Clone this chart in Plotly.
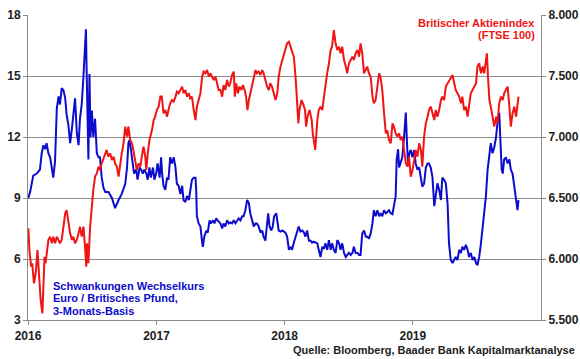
import pandas as pd
import plotly.graph_objects as go

# Days since 2016-01-01 and values
vol_days = [1, 6, 15, 25, 34, 39, 44, 49, 53, 58, 63, 68, 72, 77, 82, 87, 91, 96, 101, 106,
            110, 115, 120, 125, 129, 134, 139, 144, 148, 153, 158, 161, 165, 167, 170, 172, 175, 178, 182, 186,
            191, 196, 201, 205, 210, 215, 220, 229, 239, 248, 258, 267, 277, 282, 286, 289, 293, 299, 302, 308,
            312, 318, 322, 327, 331, 337, 341, 346, 350, 356, 360, 365, 369, 375, 379, 382, 386, 391, 396, 400,
            405, 410, 415, 420, 424, 429, 434, 439, 443, 448, 453, 458, 462, 467, 472, 477, 479, 481, 486, 491,
            496, 498, 502, 508, 512, 517, 521, 527, 531, 536, 540, 548, 553, 557, 562, 567, 572, 576, 581, 586,
            591, 595, 600, 605, 610, 614, 619, 624, 629, 633, 638, 643, 648, 652, 657, 662, 667, 671, 676, 681,
            684, 688, 693, 697, 701, 707, 710, 714, 719, 724, 729, 733, 738, 743, 748, 752, 757, 762, 767, 771,
            776, 781, 786, 790, 795, 800, 805, 809, 814, 824, 828, 833, 838, 843, 847, 852, 857, 862, 866, 871,
            876, 881, 886, 890, 895, 900, 905, 909, 914, 919, 924, 928, 933, 938, 943, 947, 952, 957, 962, 966,
            971, 976, 981, 985, 990, 995, 1000, 1004, 1009, 1014, 1019, 1023, 1028, 1033, 1038, 1042, 1047, 1050, 1054, 1057,
            1061, 1066, 1071, 1076, 1079, 1082, 1086, 1090, 1095, 1100, 1104, 1109, 1114, 1119, 1123, 1128, 1133, 1138, 1142, 1147,
            1152, 1157, 1161, 1166, 1171, 1176, 1180, 1185, 1190, 1195, 1199, 1204, 1209, 1214, 1218, 1223, 1228, 1233, 1237, 1242,
            1247, 1252, 1256, 1261, 1266, 1271, 1276, 1280, 1285, 1290, 1295, 1299, 1304, 1309, 1314, 1318, 1323, 1328, 1333, 1337,
            1342, 1345, 1349, 1352, 1356, 1361, 1366, 1371, 1375, 1380, 1385, 1390, 1394, 1397]
vol_vals = [9.0, 9.3, 10.1, 10.2, 10.4, 11.2, 11.6, 11.4, 11.7, 11.2, 11.0, 10.4, 10.0, 10.8, 13.4, 14.0, 13.6, 14.4, 14.3, 13.9,
            13.1, 12.6, 11.7, 12.4, 13.1, 13.9, 12.2, 11.6, 12.9, 13.6, 15.0, 15.8, 17.3, 15.3, 13.3, 10.9, 15.1, 12.0, 13.3, 12.0,
            12.9, 11.2, 11.0, 11.0, 10.0, 9.5, 9.3, 9.3, 9.0, 8.5, 8.9, 9.2, 9.7, 10.5, 11.7, 11.85, 11.4, 10.7, 10.2, 10.4,
            9.9, 10.5, 10.4, 10.2, 10.4, 10.2, 9.9, 10.5, 10.0, 10.5, 9.9, 10.2, 10.7, 10.0, 11.0, 10.2, 9.6, 9.4, 10.0, 9.9,
            11.0, 10.7, 11.0, 10.5, 9.7, 9.6, 9.2, 9.6, 8.9, 8.8, 9.1, 8.9, 9.4, 9.9, 10.0, 10.0, 9.4, 8.1, 7.75, 7.6,
            6.8, 6.6, 7.1, 7.4, 7.3, 7.9, 7.75, 7.9, 7.75, 8.0, 7.9, 7.75, 7.5, 7.75, 7.6, 7.9, 7.75, 7.8, 7.75, 7.9,
            7.75, 7.9, 8.0, 7.9, 8.1, 8.1, 8.4, 8.9, 8.75, 8.25, 7.9, 7.6, 7.75, 7.75, 7.6, 7.3, 7.4, 7.1, 6.9, 7.75,
            8.25, 7.6, 7.4, 7.6, 8.1, 8.25, 7.75, 7.4, 7.35, 7.4, 7.35, 7.3, 7.1, 6.45, 6.6, 6.45, 6.8, 7.1, 7.4, 7.6,
            7.35, 7.4, 7.3, 7.1, 7.4, 6.9, 6.9, 6.8, 6.85, 6.77, 6.45, 6.1, 6.6, 6.5, 6.77, 6.45, 6.93, 6.45, 6.77, 6.45,
            6.3, 6.93, 6.77, 6.45, 6.77, 6.3, 6.1, 6.2, 6.3, 6.2, 6.3, 6.6, 6.3, 6.3, 6.2, 6.2, 7.26, 7.4, 7.1, 7.1,
            7.0, 7.26, 7.75, 8.4, 8.1, 8.4, 8.1, 8.25, 8.1, 8.4, 8.25, 8.3, 8.4, 8.25, 8.2, 8.6, 9.07, 10.9, 11.4, 10.5,
            10.7, 11.0, 12.0, 13.2, 11.85, 10.7, 11.2, 11.36, 11.0, 11.36, 10.7, 10.4, 10.5, 9.9, 9.56, 9.7, 10.5, 10.7, 10.7, 10.5,
            10.0, 8.6, 9.07, 9.72, 9.4, 8.9, 10.0, 9.9, 9.72, 8.7, 6.77, 5.95, 5.8, 5.95, 6.1, 5.95, 6.45, 6.3, 6.6, 6.45,
            6.7, 6.45, 6.1, 6.3, 5.95, 6.1, 5.8, 5.7, 6.1, 6.77, 7.6, 8.1, 9.07, 10.4, 11.2, 11.7, 11.2, 11.5, 12.0, 12.7,
            13.2, 11.7, 10.4, 10.2, 10.9, 11.0, 10.7, 10.9, 10.4, 10.2, 9.56, 8.9, 8.4, 8.9]

ftse_days = [1, 4, 9, 12, 17, 22, 27, 31, 36, 41, 44, 47, 50, 54, 58, 63, 68, 72, 77, 82,
             87, 91, 96, 101, 106, 110, 115, 120, 125, 129, 134, 139, 144, 148, 153, 158, 163, 166, 168, 172,
             177, 182, 186, 191, 196, 201, 205, 210, 220, 224, 229, 234, 239, 244, 248, 253, 258, 262, 267, 272,
             277, 282, 286, 291, 296, 300, 305, 310, 315, 320, 324, 329, 334, 337, 341, 346, 353, 358, 362, 367,
             372, 377, 381, 386, 391, 396, 400, 405, 410, 415, 420, 424, 429, 434, 439, 443, 448, 453, 458, 462,
             467, 472, 477, 481, 486, 491, 496, 500, 505, 510, 515, 519, 524, 529, 534, 538, 543, 548, 553, 557,
             562, 567, 572, 576, 581, 586, 589, 593, 598, 602, 608, 612, 617, 621, 625, 629, 633, 638, 643, 648,
             652, 657, 662, 667, 671, 676, 681, 686, 690, 695, 700, 705, 710, 714, 719, 724, 729, 733, 738, 743,
             748, 752, 757, 762, 767, 770, 773, 779, 783, 789, 792, 796, 802, 808, 811, 815, 818, 824, 828, 833,
             838, 843, 847, 852, 857, 862, 866, 871, 876, 881, 886, 890, 895, 900, 905, 909, 914, 919, 924, 928,
             933, 938, 943, 947, 952, 957, 962, 966, 971, 976, 981, 985, 990, 995, 1000, 1004, 1009, 1014, 1019, 1023,
             1028, 1033, 1038, 1042, 1047, 1052, 1057, 1061, 1066, 1071, 1076, 1081, 1085, 1090, 1095, 1100, 1104, 1109, 1114, 1119,
             1123, 1128, 1133, 1138, 1142, 1147, 1152, 1157, 1161, 1166, 1171, 1176, 1180, 1185, 1190, 1195, 1199, 1204, 1209, 1214,
             1218, 1223, 1228, 1233, 1237, 1242, 1247, 1252, 1256, 1261, 1266, 1271, 1276, 1280, 1285, 1290, 1295, 1299, 1304, 1307,
             1310, 1314, 1318, 1323, 1328, 1333, 1337, 1342, 1347, 1352, 1356, 1361, 1366, 1371, 1375, 1380, 1385, 1390, 1394, 1397]
ftse_vals = [6252, 6074, 5937, 5965, 5800, 5883, 6074, 5855, 5664, 5555, 5855, 6019, 5965, 6074, 6156, 6183, 6129, 6183, 6129, 6183,
             6156, 6129, 6156, 6265, 6374, 6401, 6292, 6210, 6156, 6183, 6129, 6156, 6210, 6265, 6183, 6265, 6074, 5937, 6129, 5965,
             6265, 6456, 6566, 6675, 6702, 6757, 6729, 6784, 6866, 6894, 6839, 6866, 6812, 6839, 6784, 6757, 6675, 6784, 6866, 6948,
             7085, 7003, 7085, 6976, 6948, 6894, 6812, 6729, 6784, 6757, 6839, 6921, 6839, 6729, 6866, 6976, 7057, 7139, 7167, 7221,
             7249, 7331, 7331, 7194, 7221, 7167, 7221, 7276, 7303, 7290, 7331, 7372, 7358, 7385, 7413, 7358, 7385, 7331, 7358, 7317,
             7331, 7221, 7139, 7249, 7303, 7358, 7494, 7536, 7522, 7549, 7494, 7522, 7494, 7467, 7494, 7440, 7385, 7385, 7331, 7426,
             7385, 7467, 7413, 7440, 7508, 7536, 7331, 7440, 7358, 7413, 7385, 7426, 7385, 7331, 7221, 7303, 7358, 7413, 7494, 7549,
             7522, 7536, 7508, 7549, 7522, 7467, 7413, 7385, 7440, 7413, 7358, 7303, 7358, 7494, 7577, 7631, 7686, 7713, 7768, 7781,
             7740, 7700, 7658, 7494, 7276, 7112, 7221, 7303, 7276, 7221, 7085, 7167, 7221, 7139, 7030, 6948, 6894, 7139, 7221, 7249,
             7221, 7331, 7440, 7522, 7604, 7713, 7740, 7877, 7768, 7713, 7740, 7686, 7740, 7631, 7577, 7522, 7604, 7631, 7658, 7631,
             7686, 7713, 7658, 7768, 7686, 7522, 7549, 7577, 7522, 7494, 7331, 7276, 7303, 7440, 7522, 7494, 7385, 7194, 7030, 7057,
             6976, 6948, 7112, 7085, 7030, 7003, 7030, 6976, 7003, 6894, 6784, 6757, 6839, 6675, 6729, 6812, 6894, 6839, 6948, 6894,
             6757, 7003, 7112, 7167, 7221, 7249, 7194, 7139, 7221, 7167, 7221, 7303, 7331, 7303, 7413, 7440, 7467, 7494, 7508, 7440,
             7385, 7358, 7331, 7276, 7331, 7221, 7249, 7167, 7276, 7358, 7385, 7413, 7440, 7577, 7604, 7522, 7577, 7522, 7604, 7686,
             7494, 7303, 7249, 7167, 7085, 7167, 7112, 7276, 7331, 7303, 7358, 7385, 7413, 7249, 7085, 7194, 7249, 7167, 7249, 7331]

year_ticks = ["2016-01-01", "2017-01-01", "2018-01-01", "2019-01-01"]
year_labels = ["2016", "2017", "2018", "2019"]
left_ticks = [3, 6, 9, 12, 15, 18]
right_ticks = [5500, 6000, 6500, 7000, 7500, 8000]
right_labels = ["5.500", "6.000", "6.500", "7.000", "7.500", "8.000"]

ftse_title = ["Britischer Aktienindex", "(FTSE 100)"]
vol_title = ["Schwankungen Wechselkurs", "Euro / Britisches Pfund,", "3-Monats-Basis"]
source_text = "Quelle: Bloomberg, Baader Bank Kapitalmarktanalyse"

base = pd.Timestamp("2016-01-01")
vol_dates = base + pd.to_timedelta(vol_days, unit="D")
ftse_dates = base + pd.to_timedelta(ftse_days, unit="D")

BLUE = "#0c0ccc"
RED = "#f01414"
GRID = "#8c8c8c"
FONT = "Liberation Sans"
TXT = "#222222"

fig = go.Figure()
fig.add_trace(go.Scatter(x=vol_dates, y=vol_vals, mode="lines",
                         line=dict(color=BLUE, width=2), yaxis="y"))
fig.add_trace(go.Scatter(x=ftse_dates, y=ftse_vals, mode="lines",
                         line=dict(color=RED, width=2), yaxis="y2"))

tick_font = dict(family=FONT, size=12, color=TXT, weight="bold")
fig.update_layout(
    width=580, height=359,
    margin=dict(l=28, r=39, t=15, b=39),
    paper_bgcolor="white", plot_bgcolor="white",
    showlegend=False,
    font=dict(family=FONT, size=12, color=TXT),
    xaxis=dict(type="date", range=["2016-01-01", "2020-01-01"],
               tickvals=year_ticks, ticktext=year_labels,
               showgrid=False, showline=True, linecolor=GRID, linewidth=1,
               ticks="outside", ticklen=4, tickcolor=GRID, ticklabelstandoff=1,
               tickfont=tick_font, automargin=False, zeroline=False),
    yaxis=dict(range=[3, 18], tickvals=left_ticks,
               showgrid=True, gridcolor=GRID, gridwidth=1,
               showline=True, linecolor=GRID, linewidth=1,
               ticks="outside", ticklen=4, tickcolor=GRID,
               tickfont=tick_font, automargin=False, zeroline=False),
    yaxis2=dict(range=[5500, 8000], tickvals=right_ticks, ticktext=right_labels,
                overlaying="y", side="right", showgrid=False,
                showline=True, linecolor=GRID, linewidth=1,
                ticks="outside", ticklen=4, tickcolor=GRID,
                tickfont=tick_font, automargin=False, zeroline=False),
)

for txt, yp in zip(ftse_title, [0.974, 0.936]):
    fig.add_annotation(xref="paper", yref="paper", x=0.993, y=yp, xanchor="right", yanchor="middle",
                       text=txt, showarrow=False,
                       font=dict(family=FONT, size=11, color=RED, weight="bold"))
for txt, yp in zip(vol_title, [0.111, 0.071, 0.030]):
    fig.add_annotation(xref="paper", yref="paper", x=0.045, y=yp, xanchor="left", yanchor="middle",
                       text=txt, showarrow=False,
                       font=dict(family=FONT, size=11, color=BLUE, weight="bold"))
fig.add_annotation(xref="paper", yref="paper", x=1.07, y=-0.097, xanchor="right", yanchor="middle",
                   text=source_text, showarrow=False,
                   font=dict(family=FONT, size=11, color=TXT, weight="bold"))

fig.write_html("out.html", config={"displayModeBar": False},
               post_script="document.body.style.margin='0';document.body.style.overflow='hidden';")
